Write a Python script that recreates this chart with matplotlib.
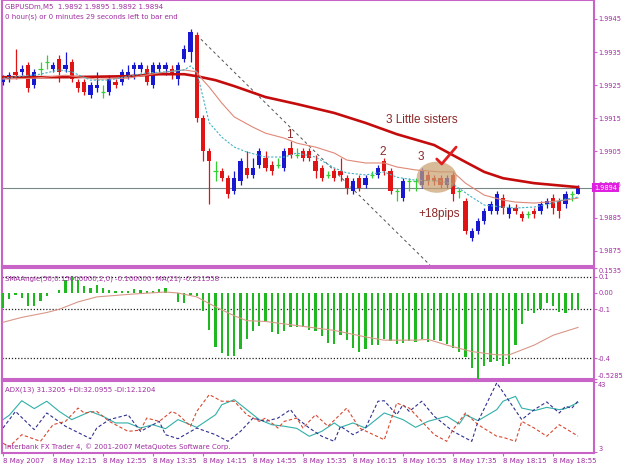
"""GBPUSDm M5 chart with SMAAngle and ADX panels (MT4 style)."""

import matplotlib

matplotlib.use("Agg")
import matplotlib.pyplot as plt
import numpy as np
from matplotlib.patches import Ellipse

W, H = 625, 469

# --- price bars, 8 May 2007 from 11:35, 5 minutes each ---
opens = [1.9926, 1.9927, 1.9929, 1.9929, 1.9931, 1.9925, 1.9930, 1.9932, 1.9930, 1.9933,
         1.9930, 1.9932, 1.9926, 1.9926, 1.9922, 1.9924, 1.9923, 1.9923, 1.9926, 1.9926,
         1.9928, 1.9930, 1.9930, 1.9930, 1.9925, 1.9930, 1.9930, 1.9930, 1.9927, 1.9933,
         1.9935, 1.9940, 1.9915, 1.9905, 1.9899, 1.9899, 1.9897, 1.9893, 1.9896, 1.9900,
         1.9898, 1.9901, 1.9903, 1.9901, 1.9901, 1.9900, 1.9906, 1.9904, 1.9905, 1.9905,
         1.9902, 1.9900, 1.9898, 1.9899, 1.9899, 1.9897, 1.9893, 1.9897, 1.9895, 1.9898,
         1.9898, 1.9902, 1.9899, 1.9893, 1.9891, 1.9896, 1.9896, 1.9895, 1.9898, 1.9897,
         1.9897, 1.9895, 1.9898, 1.9893, 1.9890, 1.9879, 1.9881, 1.9884, 1.9887, 1.9887,
         1.9891, 1.9886, 1.9888, 1.9886, 1.9886, 1.9887, 1.9887, 1.9889, 1.9891, 1.9890,
         1.9889, 1.9892, 1.9892]
highs = [1.9928, 1.9929, 1.9936, 1.9931, 1.9932, 1.9930, 1.9932, 1.9934, 1.9932, 1.9934,
         1.9935, 1.9933, 1.9927, 1.9927, 1.9926, 1.9929, 1.9925, 1.9928, 1.9927, 1.9930,
         1.9931, 1.9932, 1.9932, 1.9931, 1.9932, 1.9932, 1.9932, 1.9931, 1.9932, 1.9937,
         1.9942, 1.9941, 1.9916, 1.9906, 1.9902, 1.9900, 1.9898, 1.9899, 1.9903, 1.9905,
         1.9903, 1.9906, 1.9905, 1.9902, 1.9903, 1.9906, 1.9908, 1.9906, 1.9906, 1.9906,
         1.9904, 1.9901, 1.9899, 1.9900, 1.9903, 1.9898, 1.9897, 1.9898, 1.9898, 1.9899,
         1.9901, 1.9903, 1.9900, 1.9894, 1.9897, 1.9897, 1.9897, 1.9900, 1.9899, 1.9898,
         1.9898, 1.9898, 1.9899, 1.9894, 1.9891, 1.9882, 1.9885, 1.9888, 1.9890, 1.9893,
         1.9892, 1.9889, 1.9889, 1.9887, 1.9887, 1.9888, 1.9890, 1.9891, 1.9892, 1.9891,
         1.9893, 1.9893, 1.9895]
lows = [1.9925, 1.9926, 1.9927, 1.9928, 1.9923, 1.9924, 1.9928, 1.9930, 1.9929, 1.9926,
        1.9929, 1.9926, 1.9923, 1.9922, 1.9921, 1.9923, 1.9921, 1.9922, 1.9924, 1.9925,
        1.9927, 1.9927, 1.9929, 1.9925, 1.9924, 1.9929, 1.9928, 1.9927, 1.9925, 1.9932,
        1.9932, 1.9914, 1.9902, 1.9889, 1.9896, 1.9896, 1.9891, 1.9892, 1.9895, 1.9897,
        1.9897, 1.9900, 1.9899, 1.9898, 1.9900, 1.9899, 1.9903, 1.9903, 1.9902, 1.9902,
        1.9897, 1.9896, 1.9897, 1.9896, 1.9896, 1.9892, 1.9892, 1.9893, 1.9894, 1.9897,
        1.9897, 1.9898, 1.9892, 1.9890, 1.9890, 1.9893, 1.9893, 1.9894, 1.9895, 1.9895,
        1.9894, 1.9894, 1.9890, 1.9891, 1.9880, 1.9878, 1.9880, 1.9883, 1.9886, 1.9886,
        1.9886, 1.9885, 1.9886, 1.9884, 1.9885, 1.9885, 1.9886, 1.9888, 1.9886, 1.9885,
        1.9888, 1.9890, 1.9892]
closes = [1.9927, 1.9928, 1.9928, 1.9930, 1.9924, 1.9929, 1.9930, 1.9932, 1.9931, 1.9929,
          1.9931, 1.9927, 1.9924, 1.9923, 1.9925, 1.9925, 1.9923, 1.9927, 1.9925, 1.9929,
          1.9929, 1.9931, 1.9931, 1.9926, 1.9931, 1.9931, 1.9931, 1.9928, 1.9931, 1.9936,
          1.9941, 1.9915, 1.9905, 1.9902, 1.9899, 1.9897, 1.9892, 1.9897, 1.9902, 1.9898,
          1.9900, 1.9905, 1.9900, 1.9899, 1.9901, 1.9905, 1.9904, 1.9904, 1.9903, 1.9903,
          1.9899, 1.9897, 1.9898, 1.9897, 1.9898, 1.9894, 1.9896, 1.9894, 1.9897, 1.9898,
          1.9900, 1.9899, 1.9893, 1.9893, 1.9896, 1.9896, 1.9896, 1.9899, 1.9896, 1.9896,
          1.9895, 1.9897, 1.9892, 1.9893, 1.9881, 1.9881, 1.9884, 1.9887, 1.9889, 1.9892,
          1.9888, 1.9888, 1.9887, 1.9885, 1.9886, 1.9886, 1.9889, 1.9890, 1.9888, 1.9887,
          1.9892, 1.9892, 1.9894]

# moving averages on the price chart, read at some bars
ma_slow_idx = [0, 10, 20, 25, 29, 31, 34, 37, 42, 47, 53, 58, 63, 69, 74, 77, 80, 85, 92]
ma_slow = [1.99274, 1.99274, 1.99277, 1.99283, 1.99283, 1.99277, 1.99265, 1.99247, 1.99214,
           1.99193, 1.99166, 1.99136, 1.99102, 1.99069, 1.99018, 1.98988, 1.98969, 1.98954,
           1.98942]
ma_mid_idx = [0, 5, 10, 15, 20, 25, 29, 31, 32, 33, 35, 37, 40, 42, 45, 47, 50, 53, 55, 58,
              61, 63, 66, 70, 72, 74, 77, 80, 82, 85, 87, 90, 92]
ma_mid = [1.99268, 1.99271, 1.99280, 1.99268, 1.99271, 1.99287, 1.99296, 1.99290, 1.99265,
          1.99244, 1.99196, 1.99154, 1.99123, 1.99105, 1.99090, 1.99075, 1.99063, 1.99045,
          1.99024, 1.99015, 1.99015, 1.99003, 1.98994, 1.98988, 1.98988, 1.98954, 1.98918,
          1.98903, 1.98897, 1.98894, 1.98897, 1.98903, 1.98909]
ma_fast_idx = [0, 3, 6, 9, 11, 14, 17, 20, 23, 26, 29, 30, 31, 32, 33, 35, 37, 39, 42, 45,
               47, 50, 53, 55, 58, 61, 63, 66, 70, 72, 75, 77, 80, 82, 85, 88, 90, 92]
ma_fast = [1.99271, 1.99277, 1.99283, 1.99296, 1.99290, 1.99265, 1.99265, 1.99277, 1.99287,
           1.99290, 1.99296, 1.99308, 1.99290, 1.99214, 1.99136, 1.99093, 1.99063, 1.99048,
           1.99033, 1.99033, 1.99045, 1.99033, 1.99000, 1.98985, 1.98979, 1.98988, 1.98972,
           1.98963, 1.98960, 1.98951, 1.98912, 1.98888, 1.98882, 1.98879, 1.98882, 1.98894,
           1.98906, 1.98912]

price_ticks = [1.9945, 1.9935, 1.9925, 1.9915, 1.9905, 1.9895, 1.9885, 1.9875]
last_price = 1.9894

# SMAAngle histogram, one value per bar, and its MA(21)
angle_vals = [-0.09, -0.036, -0.01, -0.03, -0.083, -0.08, -0.05, -0.016, 0.0, 0.02,
              0.08, 0.105, 0.077, 0.04, 0.03, 0.05, 0.03, 0.016, 0.01, 0.01,
              0.01, 0.024, 0.02, 0.01, 0.01, 0.024, 0.03, 0.005, -0.057, -0.06,
              -0.01, -0.02, -0.11, -0.225, -0.33, -0.366, -0.39, -0.39, -0.345, -0.285,
              -0.234, -0.2, -0.18, -0.24, -0.254, -0.234, -0.21, -0.21, -0.21, -0.23,
              -0.236, -0.264, -0.31, -0.316, -0.26, -0.29, -0.336, -0.36, -0.344, -0.32,
              -0.32, -0.28, -0.296, -0.316, -0.31, -0.296, -0.3, -0.28, -0.3, -0.29,
              -0.296, -0.316, -0.34, -0.364, -0.396, -0.46, -0.5285, -0.45, -0.424, -0.42,
              -0.45, -0.436, -0.32, -0.19, -0.11, -0.12, -0.096, -0.06, -0.08, -0.116,
              -0.124, -0.096, -0.1]
angle_ma_idx = [0, 3, 7, 9, 12, 15, 21, 26, 28, 31, 34, 37, 39, 42, 47, 53, 58, 61, 66, 68,
                71, 75, 79, 81, 85, 88, 92]
angle_ma = [-0.18, -0.15, -0.12, -0.10, -0.055, -0.024, -0.006, 0.006, 0.0, -0.024, -0.085,
            -0.14, -0.17, -0.175, -0.20, -0.23, -0.27, -0.29, -0.29, -0.285, -0.32, -0.36,
            -0.38, -0.38, -0.32, -0.26, -0.2116]
angle_levels = [0.1, -0.1, -0.4]
angle_ticks = [0.1535, 0.1, 0.0, -0.1, -0.4, -0.5285]
angle_tick_labels = ["0.1535", "0.1", "0.00", "-0.1", "-0.4", "-0.5285"]

# ADX(13)
adx_idx = [0, 1, 3, 5, 7, 9, 11, 14, 16, 18, 20, 22, 24, 26, 28, 31, 34, 35, 37, 39, 41, 43,
           45, 47, 49, 51, 53, 54, 56, 58, 61, 64, 66, 68, 71, 73, 74, 76, 79, 80, 82, 83,
           85, 87, 89, 90, 92]
adx_vals = [21.5, 24.0, 32.3, 27.8, 32.0, 26.2, 21.5, 26.2, 23.4, 19.6, 19.6, 16.7, 18.6,
            16.3, 21.5, 17.1, 24.3, 30.0, 32.9, 27.2, 21.5, 18.6, 17.7, 16.5, 12.0, 14.8,
            19.6, 17.1, 19.6, 16.7, 25.3, 21.5, 17.1, 20.5, 23.4, 19.0, 24.3, 20.9, 27.2,
            32.0, 34.8, 28.1, 26.6, 28.5, 27.2, 27.8, 31.3]
pdi_idx = [0, 2, 5, 7, 10, 14, 15, 17, 20, 22, 25, 26, 28, 31, 34, 36, 38, 40, 42, 44, 46,
           47, 49, 51, 53, 54, 56, 58, 60, 61, 63, 64, 65, 67, 69, 72, 74, 75, 76, 79, 81,
           83, 85, 87, 89, 90, 91, 92]
pdi_vals = [16.7, 26.2, 15.8, 25.3, 17.7, 10.6, 16.7, 21.5, 24.3, 14.8, 20.5, 12.9, 10.6,
            16.7, 12.9, 9.1, 14.8, 22.4, 20.5, 22.4, 27.2, 22.4, 16.7, 12.0, 9.1, 17.7, 12.9,
            16.7, 32.0, 32.3, 24.3, 30.0, 26.2, 32.0, 23.4, 14.8, 11.0, 9.1, 20.5, 42.5,
            32.0, 21.5, 27.2, 31.6, 25.3, 29.1, 28.0, 32.1]
mdi_idx = [0, 1, 3, 6, 8, 10, 12, 13, 15, 17, 20, 22, 23, 25, 27, 28, 30, 31, 33, 35, 37,
           39, 41, 42, 44, 45, 47, 48, 50, 52, 55, 57, 61, 63, 65, 67, 69, 71, 72, 74, 76,
           79, 80, 82, 83, 85, 87, 89, 92]
mdi_vals = [8.0, 6.0, 12.9, 9.1, 18.6, 20.5, 28.1, 25.3, 26.2, 20.5, 14.8, 15.5, 22.4, 20.5,
            26.2, 24.5, 17.7, 26.2, 35.8, 32.0, 32.0, 24.3, 20.5, 22.4, 16.7, 20.5, 22.4,
            16.7, 24.3, 17.7, 28.1, 16.7, 10.0, 31.0, 28.1, 20.5, 12.9, 9.1, 15.8, 25.3,
            18.6, 12.0, 11.4, 9.1, 20.5, 16.7, 12.0, 18.6, 12.1]

date_pos = [0, 8, 16, 24, 32, 40, 48, 56, 64, 72, 80, 88]
date_labels = ["8 May 2007", "8 May 12:15", "8 May 12:55", "8 May 13:35", "8 May 14:15",
               "8 May 14:55", "8 May 15:35", "8 May 16:15", "8 May 16:55", "8 May 17:35",
               "8 May 18:15", "8 May 18:55"]

FRAME = "#c864c8"
TEXT = "#a02ca0"
BULL = "#1818d0"
BEAR = "#e01414"
DOJI = "#30d030"
SMALL = 5.0
AXIS_LBL = 4.8


def rect(left, top, right, bottom):
    return [left / W, 1 - bottom / H, (right - left) / W, (bottom - top) / H]


def style_panel(ax):
    for sp in ax.spines.values():
        sp.set_color(FRAME)
        sp.set_linewidth(1.5)
    ax.set_xlim(-0.16, 94.56)
    ax.yaxis.tick_right()
    ax.tick_params(axis="y", colors=FRAME, labelcolor=TEXT, labelsize=AXIS_LBL,
                   length=2.0, width=0.8, pad=1.0)
    ax.tick_params(axis="x", bottom=False, labelbottom=False)
    ax.set_facecolor("white")


def pin_end_labels(ax):
    # MT4 keeps the max/min labels inside the panel edges
    labels = ax.get_yticklabels()
    labels[0].set_va("top")
    labels[-1].set_va("bottom")


def draw_price(ax):
    o, h, l, c = (np.array(v) for v in (opens, highs, lows, closes))
    x = np.arange(len(o))
    cols = np.where(c > o, BULL, np.where(c < o, BEAR, DOJI))

    ax.vlines(x, l, h, colors=cols, linewidth=0.9, zorder=3)
    ax.bar(x, np.abs(c - o), bottom=np.minimum(o, c), width=0.7, color=cols,
           linewidth=0, zorder=3)
    doji = c == o
    ax.hlines(o[doji], x[doji] - 0.35, x[doji] + 0.35, colors=DOJI, linewidth=0.9, zorder=3)

    ax.plot(ma_slow_idx, ma_slow, color="#c40c0c", linewidth=1.9, zorder=4)
    ax.plot(ma_mid_idx, ma_mid, color="#e08878", linewidth=0.8, zorder=4)
    ax.plot(ma_fast_idx, ma_fast, color="#40b4c4", linewidth=0.8, linestyle=(0, (2, 1.5)),
            zorder=4)

    # current price line and trend line
    ax.axhline(last_price, color="#7a8888", linewidth=0.8, zorder=2)
    ax.plot([31.0, 68.3], [1.99401, 1.98707], color="#505050", linewidth=0.7,
            linestyle=(0, (3, 3)), zorder=2)

    # notes drawn on the chart
    ax.add_patch(Ellipse((69.4, 1.98972), 6.4, 0.00094, facecolor="#c8a070", alpha=0.7,
                         edgecolor="none", zorder=5))
    ax.plot([69.4, 70.2, 72.5], [1.99027, 1.99012, 1.99063], color="#e02020",
            linewidth=2.0, solid_capstyle="round", zorder=6)
    note = dict(color="#8c2828", fontsize=8.5, family="Liberation Sans",
                ha="center", va="center", zorder=6)
    ax.text(67.0, 1.99145, "3 Little sisters", **note)
    ax.text(69.8, 1.98861, "+18pips", **note)
    ax.text(45.8, 1.99099, "1", **note)
    ax.text(60.8, 1.99048, "2", **note)
    ax.text(66.9, 1.99033, "3", **note)

    ax.set_ylim(1.98704, 1.99507)
    ax.set_yticks(price_ticks)
    ax.set_yticklabels([f"{t:.4f}" for t in price_ticks])
    ax.text(1.0, last_price, f"{last_price:.4f}", transform=ax.get_yaxis_transform(),
            ha="left", va="center", color="white", fontsize=AXIS_LBL, zorder=10,
            clip_on=False,
            bbox=dict(boxstyle="square,pad=0.25", facecolor="#e020e0", edgecolor="none"))

    ax.text(0.005, 0.985, "GBPUSDm,M5  1.9892 1.9895 1.9892 1.9894", transform=ax.transAxes,
            color=TEXT, fontsize=SMALL, va="top")
    ax.text(0.005, 0.95, "0 hour(s) or 0 minutes 29 seconds left to bar end",
            transform=ax.transAxes, color=TEXT, fontsize=SMALL, va="top")


def draw_angle(ax):
    x = np.arange(len(angle_vals))
    ax.bar(x, angle_vals, width=0.38, color="#20b820", linewidth=0, zorder=3)
    ax.plot(angle_ma_idx, angle_ma, color="#d89888", linewidth=0.8, zorder=4)
    for lv in angle_levels:
        ax.axhline(lv, color="#202020", linewidth=0.9, linestyle=(0, (1, 1.5)), zorder=2)
    ax.set_ylim(-0.5285, 0.1535)
    ax.set_yticks(angle_ticks)
    ax.set_yticklabels(angle_tick_labels)
    pin_end_labels(ax)
    ax.text(0.005, 0.93, "SMAAngle(50,0.15000000,2,0) -0.100000  MA(21) -0.211558",
            transform=ax.transAxes, color=TEXT, fontsize=SMALL, va="top")


def draw_adx(ax):
    ax.plot(adx_idx, adx_vals, color="#30b0a8", linewidth=0.8)
    ax.plot(pdi_idx, pdi_vals, color="#303090", linewidth=0.8, linestyle=(0, (3, 2)))
    ax.plot(mdi_idx, mdi_vals, color="#d84830", linewidth=0.8, linestyle=(0, (3, 2)))
    ax.set_ylim(2.43, 43.57)
    ax.set_yticks([43, 3])
    ax.set_yticklabels(["43", "3"])
    pin_end_labels(ax)
    ax.text(0.005, 0.93, "ADX(13) 31.3205 +DI:32.0955 -DI:12.1204", transform=ax.transAxes,
            color=TEXT, fontsize=SMALL, va="top")
    ax.text(0.005, 0.04, "Interbank FX Trader 4, \u00a9 2001-2007 MetaQuotes Software Corp.",
            transform=ax.transAxes, color=TEXT, fontsize=SMALL, va="bottom")

    ax.set_xticks(date_pos)
    ax.set_xticklabels(date_labels)
    ax.tick_params(axis="x", bottom=True, labelbottom=True, colors=FRAME, labelcolor=TEXT,
                   labelsize=SMALL, length=2.5, width=0.8, pad=1.0)
    for lbl in ax.get_xticklabels():
        lbl.set_ha("left")


def main():
    fig = plt.figure(figsize=(W / 100, H / 100), dpi=100)
    fig.patch.set_facecolor("white")

    ax_price = fig.add_axes(rect(2, 0, 594, 266))
    ax_angle = fig.add_axes(rect(2, 268, 594, 379))
    ax_adx = fig.add_axes(rect(2, 381, 594, 453))
    for ax in (ax_price, ax_angle, ax_adx):
        style_panel(ax)

    draw_price(ax_price)
    draw_angle(ax_angle)
    draw_adx(ax_adx)

    fig.savefig("out.png", dpi=100)
    plt.close(fig)


if __name__ == "__main__":
    main()
